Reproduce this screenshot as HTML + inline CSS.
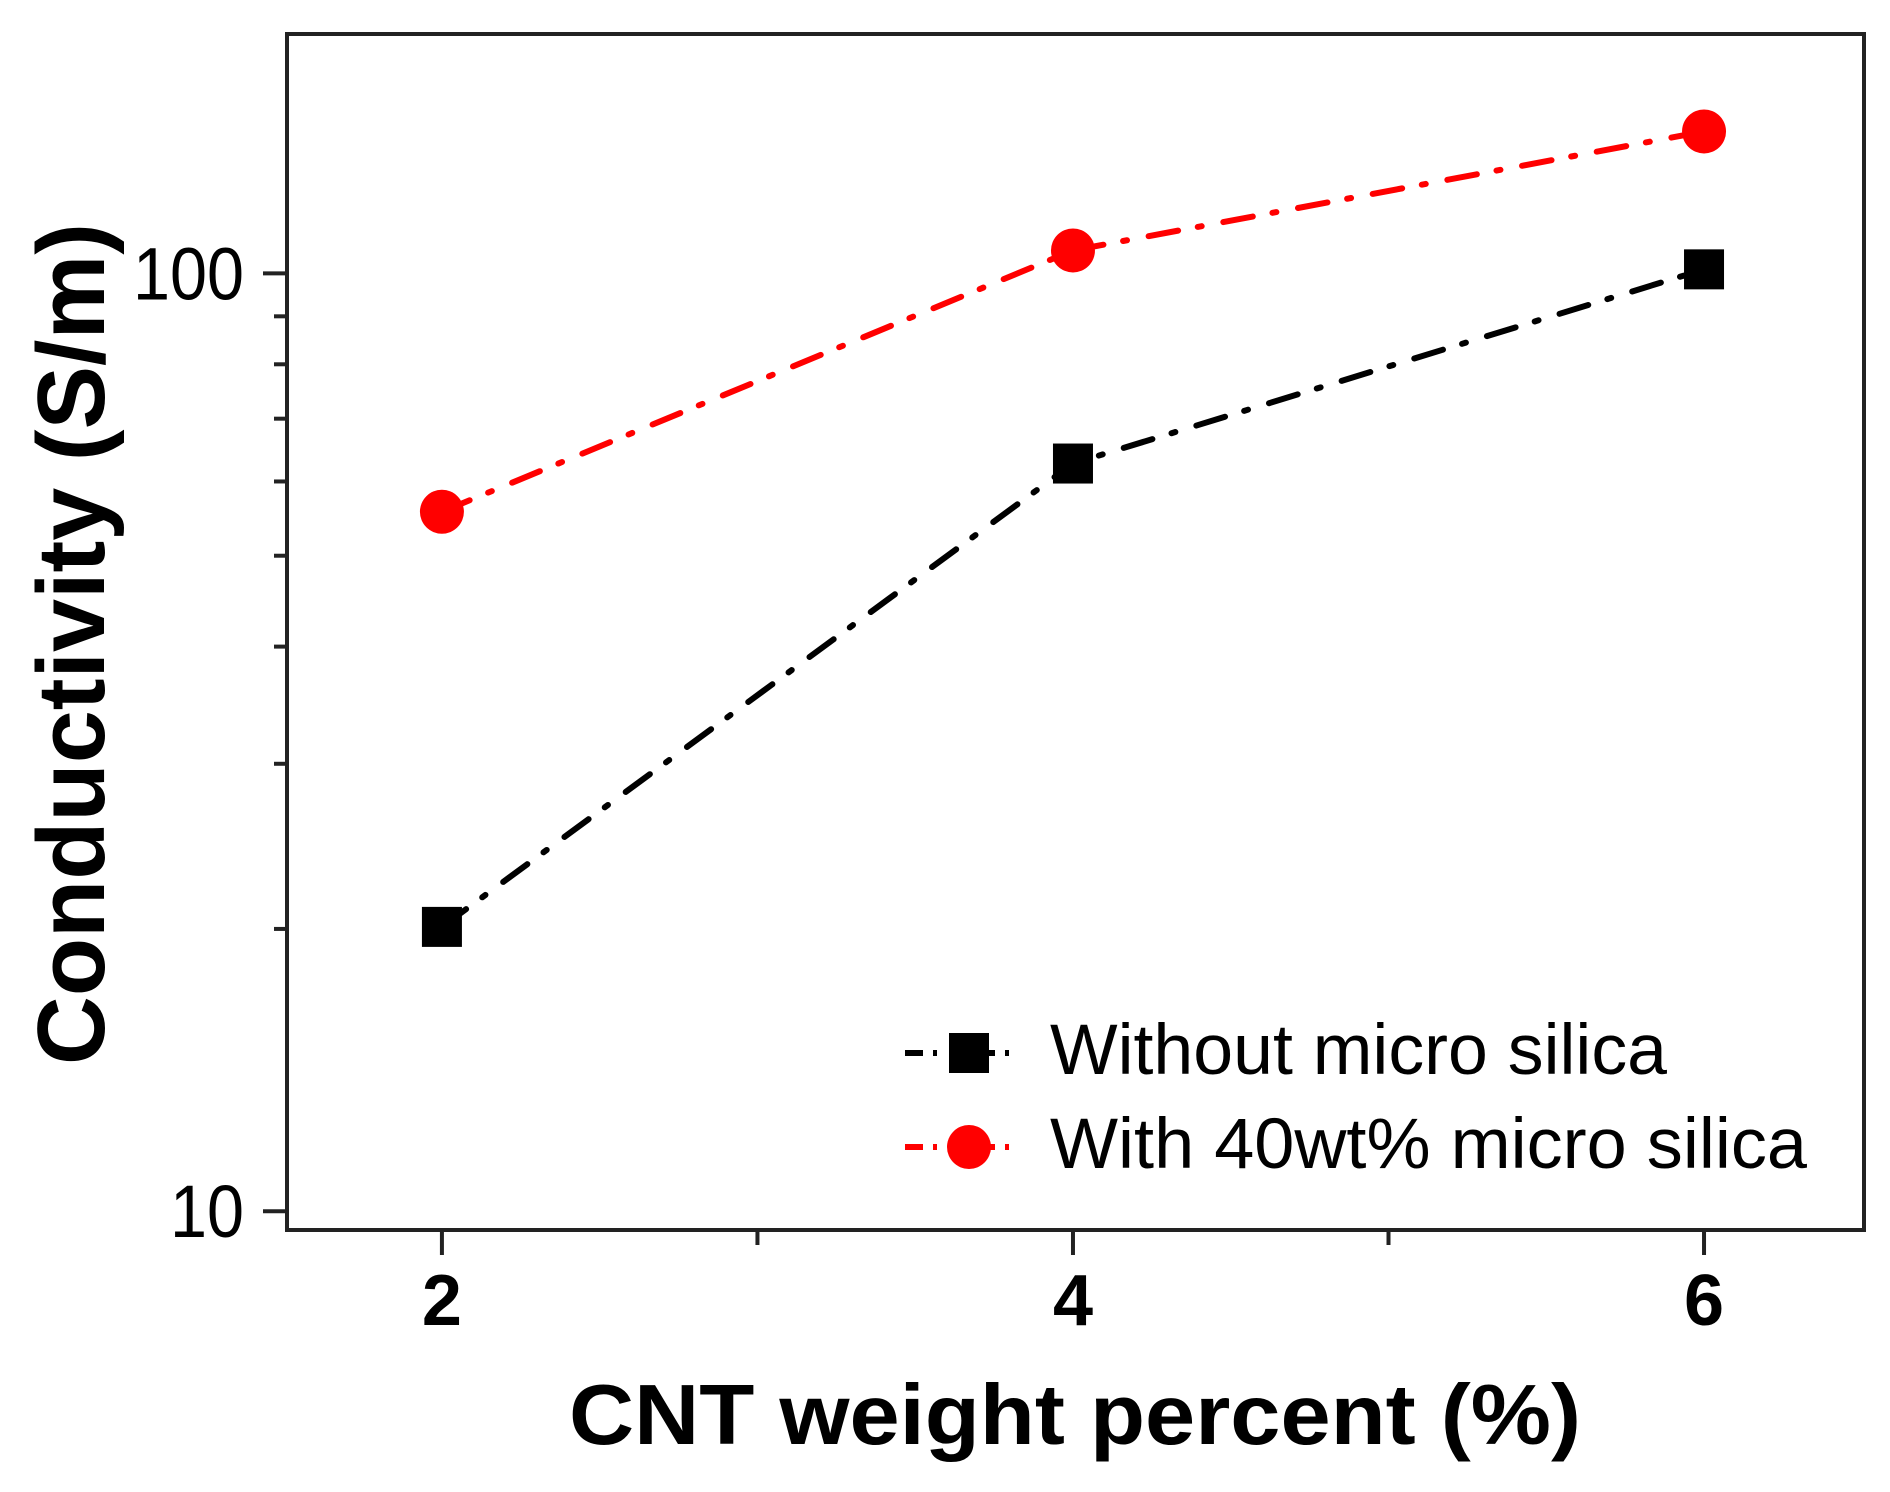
<!DOCTYPE html>
<html>
<head>
<meta charset="utf-8">
<style>
html,body{margin:0;padding:0;background:#fff;}
svg{display:block;}
text{font-family:"Liberation Sans",Arial,sans-serif;}
</style>
</head>
<body>
<svg id="chart" width="1890" height="1492" viewBox="0 0 1890 1492" xmlns="http://www.w3.org/2000/svg">
  <g id="axes"></g>
  <g id="series"></g>
  <g id="legend"></g>
</svg>
<script>
const categories = [2, 4, 6];
const withoutSilica = [20.1, 62.7, 101];
const withSilica = [55.7, 105.8, 141.7];
const yMajorTicks = [10, 100];
const yMinorTicks = [20, 30, 40, 50, 60, 70, 80, 90];
const xMajorTicks = [2, 4, 6];
const xMinorTicks = [3, 5];
const seriesNames = ["Without micro silica", "With 40wt% micro silica"];

const NS = "http://www.w3.org/2000/svg";
const L = 287, R = 1864, T = 34, B = 1230;
const xMin = 1.509, xMax = 6.507;
const yMinLog = Math.log10(9.55), yMaxLog = Math.log10(180);
function xs(v){ return L + (v - xMin) / (xMax - xMin) * (R - L); }
function ys(v){ return B - (Math.log10(v) - yMinLog) / (yMaxLog - yMinLog) * (B - T); }
function mk(tag, attrs, parent){
  const e = document.createElementNS(NS, tag);
  for (const k in attrs) e.setAttribute(k, attrs[k]);
  parent.appendChild(e);
  return e;
}
const axes = document.getElementById('axes');
const series = document.getElementById('series');
const legend = document.getElementById('legend');

const frame = mk('rect', {x:L, y:T, width:R-L, height:B-T, fill:'none', stroke:'#222', 'stroke-width':4}, axes);



yMajorTicks.forEach(v => {
  const y = ys(v);
  const t = mk('line', {x1:L-24, x2:L, y1:y, y2:y, stroke:'#222', 'stroke-width':4}, axes);
  
  
  const s = String(v);
  const lab = mk('text', {x:L-43, y:y+26, 'text-anchor':'end', 'font-size':74, fill:'#000', textLength: s.length * 37, lengthAdjust:'spacingAndGlyphs'}, axes);
  lab.textContent = s;
  
  
});
yMinorTicks.forEach(v => {
  const y = ys(v);
  const t = mk('line', {x1:L-13, x2:L, y1:y, y2:y, stroke:'#222', 'stroke-width':4}, axes);
  
  
});
xMajorTicks.forEach(v => {
  const x = xs(v);
  const t = mk('line', {x1:x, x2:x, y1:B, y2:B+25, stroke:'#222', 'stroke-width':4}, axes);
  
  
  const lab = mk('text', {x:x, y:1325, 'text-anchor':'middle', 'font-size':72, 'font-weight':'bold', fill:'#000'}, axes);
  lab.textContent = String(v);
  
  
});
xMinorTicks.forEach(v => {
  const x = xs(v);
  const t = mk('line', {x1:x, x2:x, y1:B, y2:B+15, stroke:'#222', 'stroke-width':4}, axes);
  
  
});

const xt = mk('text', {x:1075, y:1444, 'text-anchor':'middle', 'font-size':85, 'font-weight':'bold', fill:'#000', textLength:1012, lengthAdjust:'spacingAndGlyphs'}, axes);
xt.textContent = 'CNT weight percent (%)';


const yt = mk('text', {x:0, y:0, 'text-anchor':'middle', 'font-size':96, 'font-weight':'bold', fill:'#000', textLength:842, lengthAdjust:'spacingAndGlyphs', transform:'translate(104,644) rotate(-90)'}, axes);
yt.textContent = 'Conductivity (S/m)';



const dash = '30 20 4 22';
function drawSeries(vals, color, kind, name){
  const pts = vals.map((v,i) => xs(categories[i]) + ',' + ys(v)).join(' ');
  const pl = mk('polyline', {points:pts, fill:'none', stroke:color, 'stroke-width':6, 'stroke-dasharray':dash, 'stroke-linecap':'round'}, series);
  
  
  vals.forEach((v,i) => {
    const x = xs(categories[i]), y = ys(v);
    let m;
    if (kind === 'square') m = mk('rect', {x:x-20, y:y-20, width:40, height:40, fill:color}, series);
    else m = mk('circle', {cx:x, cy:y, r:22, fill:color}, series);
    
    
  });
}
drawSeries(withoutSilica, '#000', 'square', 'without-silica');
drawSeries(withSilica, '#ff0000', 'circle', 'with-silica');

function legendEntry(y, color, kind, label, w, name){
  const ln = mk('line', {x1:905, x2:1025, y1:y, y2:y, stroke:color, 'stroke-width':6, 'stroke-dasharray':'18 10 4 40'}, legend);
  
  
  let m;
  if (kind === 'square') m = mk('rect', {x:949, y:y-20, width:40, height:40, fill:color}, legend);
  else m = mk('circle', {cx:969, cy:y, r:22, fill:color}, legend);
  
  
  const t = mk('text', {x:1050, y:y+21, 'font-size':71, fill:'#000', textLength:w, lengthAdjust:'spacingAndGlyphs'}, legend);
  t.textContent = label;
  
  
}
legendEntry(1053, '#000', 'square', seriesNames[0], 617, 'without-silica');
legendEntry(1147, '#ff0000', 'circle', seriesNames[1], 757, 'with-silica');
</script>
</body>
</html>
